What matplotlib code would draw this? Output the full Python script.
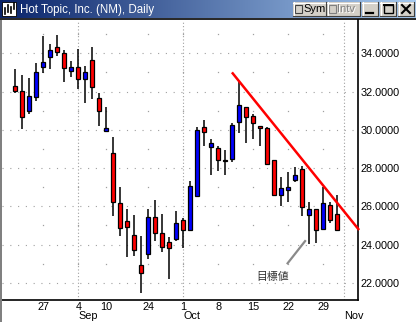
import numpy as np
import matplotlib
matplotlib.use('Agg')
import matplotlib.pyplot as plt
from matplotlib.patches import Rectangle
from matplotlib.lines import Line2D
from matplotlib import transforms

# daily bars, Aug 21 .. Oct 31 (trading days only)
opens = [32.27, 32.01, 31.00, 31.73, 33.27, 33.79, 34.31, 34.00, 33.06, 33.27,
         32.64, 33.65, 31.65, 29.96, 28.77, 26.15, 25.21, 24.48, 22.93, 23.49,
         25.42, 24.59, 24.12, 24.27, 25.27, 24.74, 26.55, 30.13, 29.08, 29.03,
         28.42, 28.46, 30.39, 31.18, 30.70, 30.18, 30.11, 28.40, 26.57, 26.87,
         27.39, 27.93, 25.53, 25.84, 24.79, 26.05, 25.58]
highs = [33.18, 32.86, 32.72, 33.51, 34.90, 34.49, 34.96, 34.17, 33.60, 34.22,
         33.34, 34.33, 31.91, 31.18, 29.60, 27.00, 25.84, 25.53, 24.43, 25.86,
         26.33, 25.58, 24.39, 25.73, 25.37, 27.32, 30.15, 30.51, 29.52, 29.15,
         28.94, 30.37, 32.48, 31.18, 30.81, 30.20, 30.16, 28.42, 27.51, 27.81,
         28.04, 28.10, 26.24, 25.86, 27.02, 26.24, 26.60]
lows = [31.91, 30.04, 30.84, 31.50, 32.99, 33.16, 33.84, 32.51, 32.78, 32.12,
        31.42, 31.63, 30.18, 29.95, 25.50, 24.46, 23.33, 23.38, 21.48, 23.23,
        24.17, 23.62, 22.18, 24.17, 23.80, 24.71, 26.55, 29.17, 27.65, 27.86,
        27.65, 28.30, 29.85, 29.32, 29.50, 29.17, 28.14, 26.57, 26.01, 26.24,
        27.28, 25.50, 24.01, 24.06, 24.79, 25.11, 24.69]
closes = [32.01, 30.65, 31.77, 33.00, 33.55, 34.17, 34.08, 33.22, 33.27, 32.64,
          33.00, 32.22, 30.97, 30.08, 26.21, 24.86, 24.90, 23.70, 22.50, 25.42,
          24.59, 23.87, 23.82, 25.11, 24.74, 27.04, 29.97, 29.90, 29.31, 28.40,
          28.35, 30.23, 31.28, 30.65, 30.34, 30.08, 28.19, 26.57, 26.94, 26.99,
          27.65, 25.95, 25.84, 24.74, 26.17, 25.28, 24.74]

# x axis labels (bar index of each labelled day)
day_pos = [4, 9, 13, 19, 24, 29, 34, 39, 44]
day_labels = ['27', '4', '10', '24', '1', '8', '15', '22', '29']
month_pos = [9, 24, 47]
month_labels = ['Sep', 'Oct', 'Nov']
price_ticks = [22, 24, 26, 28, 30, 32, 34]

# hand-drawn resistance line and target note
trend_x = [31.06, 49.0]
trend_y = [32.95, 24.81]
note_text = '目標値'
note_xy = (36.8, 22.3)
pointer_x = [38.9, 41.4]
pointer_y = [23.02, 24.18]

W, H = 416, 322
fig = plt.figure(figsize=(W / 100, H / 100), dpi=100)
fig.patch.set_facecolor('white')
latin = ['Liberation Sans', 'DejaVu Sans']

# ---- main chart ----
ax = fig.add_axes([2 / W, 22 / H, 356.3 / W, 280 / H])
ax.set_xlim(-1.9, 49.0)
ax.set_ylim(21.10, 35.74)
ax.set_facecolor('white')

grid_c = '#a0a0a0'
for p in price_ticks:
    ax.axhline(p, color=grid_c, lw=0.8, ls=(0, (1, 6)), zorder=0)
for p in range(21, 36, 2):
    ax.plot(day_pos, [p] * len(day_pos), ls='none', marker='s', ms=0.9,
            mec='none', mfc=grid_c, zorder=0)
for m in month_pos:
    ax.axvline(m, color=grid_c, lw=0.8, ls=(0, (1, 2)), zorder=0)

x = np.arange(len(opens))
o = np.array(opens)
c = np.array(closes)
up = c >= o
ax.vlines(x, lows, highs, color='black', lw=1.1, zorder=2)
ax.bar(x, np.abs(c - o), bottom=np.minimum(o, c), width=0.62,
       color=np.where(up, '#0000ff', '#ff0000'), edgecolor='black',
       linewidth=0.9, zorder=3)

ax.plot(trend_x, trend_y, color='#ff0000', lw=1.8, zorder=4, clip_on=False)
ax.plot(pointer_x, pointer_y, color='#8a8a8a', lw=1.6, zorder=4)
ax.text(note_xy[0], note_xy[1], note_text, ha='center', va='center',
        fontsize=7.8, color='#303030',
        family=['Noto Sans CJK JP', 'DejaVu Sans'])

for s in ['left', 'top']:
    ax.spines[s].set_visible(False)
ax.spines['right'].set_linewidth(1.2)
ax.spines['bottom'].set_linewidth(1.2)

ax.yaxis.tick_right()
ax.set_yticks(price_ticks)
ax.set_yticklabels([f'{p:.4f}' for p in price_ticks], family=latin,
                   fontsize=7.8)
ax.tick_params(axis='y', length=0, pad=1.5)
ax.set_xticks(day_pos)
ax.set_xticklabels(day_labels, family=latin, fontsize=7.8)
ax.tick_params(axis='x', length=0, pad=1.2)

trans = transforms.blended_transform_factory(ax.transData, ax.transAxes)
for m, lab in zip(month_pos, month_labels):
    ax.text(m, -0.058, lab, transform=trans, ha='left', va='center',
            fontsize=7.8, family=latin, clip_on=False)

# window frame bits
fig.add_artist(Rectangle((0, 0), 2 / W, 302 / H, transform=fig.transFigure,
                         color='#808080', lw=0))
fig.add_artist(Line2D([0, 1], [1 - 19 / H, 1 - 19 / H],
                      transform=fig.transFigure, color='black', lw=1.2))

# ---- title bar ----
tb = fig.add_axes([0, 1 - 18 / H, 1, 18 / H])
tb.set_xlim(0, W)
tb.set_ylim(18, 0)
tb.axis('off')
c0 = np.array([10, 36, 106]) / 255
c1 = np.array([166, 202, 240]) / 255
t = np.linspace(0, 1, 256)[None, :, None]
grad = c0 + (c1 - c0) * t
tb.imshow(grad, extent=[0, W, 18, 0], aspect='auto', interpolation='bilinear')

# little chart icon
tb.add_patch(Rectangle((2, 2), 14, 14, facecolor='white', edgecolor='black',
                       lw=0.6))
for xi, y0, y1 in [(5, 8, 14), (8, 5, 12), (11, 7, 13), (14, 3, 9)]:
    tb.plot([xi, xi], [y0, y1], color='black', lw=1.2)
tb.text(20, 9.5, 'Hot Topic, Inc. (NM), Daily', color='white', fontsize=8.3,
        va='center', ha='left', family=latin)


def button(x0, x1, y0=2, y1=16):
    tb.add_patch(Rectangle((x0, y0), x1 - x0, y1 - y0, facecolor='#d4d0c8',
                           edgecolor='none'))
    tb.plot([x0, x1], [y0 + 0.5, y0 + 0.5], color='white', lw=0.8)
    tb.plot([x0 + 0.5, x0 + 0.5], [y0, y1], color='white', lw=0.8)
    tb.plot([x0, x1], [y1 - 0.5, y1 - 0.5], color='#404040', lw=0.8)
    tb.plot([x1 - 0.5, x1 - 0.5], [y0, y1], color='#404040', lw=0.8)


button(293, 326)
tb.add_patch(Rectangle((295, 5), 7, 8, facecolor='#d4d0c8',
                       edgecolor='#404040', lw=0.8))
tb.text(303, 9.5, 'Sym', fontsize=8, va='center', family=latin,
        color='black')
button(327, 360)
tb.add_patch(Rectangle((329, 5), 7, 8, facecolor='#d4d0c8',
                       edgecolor='#808080', lw=0.8))
tb.text(337.6, 10.1, 'Intv', fontsize=8, va='center', family=latin,
        color='white')
tb.text(337, 9.5, 'Intv', fontsize=8, va='center', family=latin,
        color='#808080')
button(362, 378)
tb.plot([366, 373], [12.5, 12.5], color='black', lw=1.6)
button(380, 396)
tb.add_patch(Rectangle((383.5, 4.5), 9, 8, facecolor='none',
                       edgecolor='black', lw=1.0))
tb.plot([383.5, 392.5], [5.3, 5.3], color='black', lw=1.4)
button(398, 414)
tb.plot([402, 410], [5, 13], color='black', lw=1.5)
tb.plot([402, 410], [13, 5], color='black', lw=1.5)

fig.savefig('out.png', dpi=100)
